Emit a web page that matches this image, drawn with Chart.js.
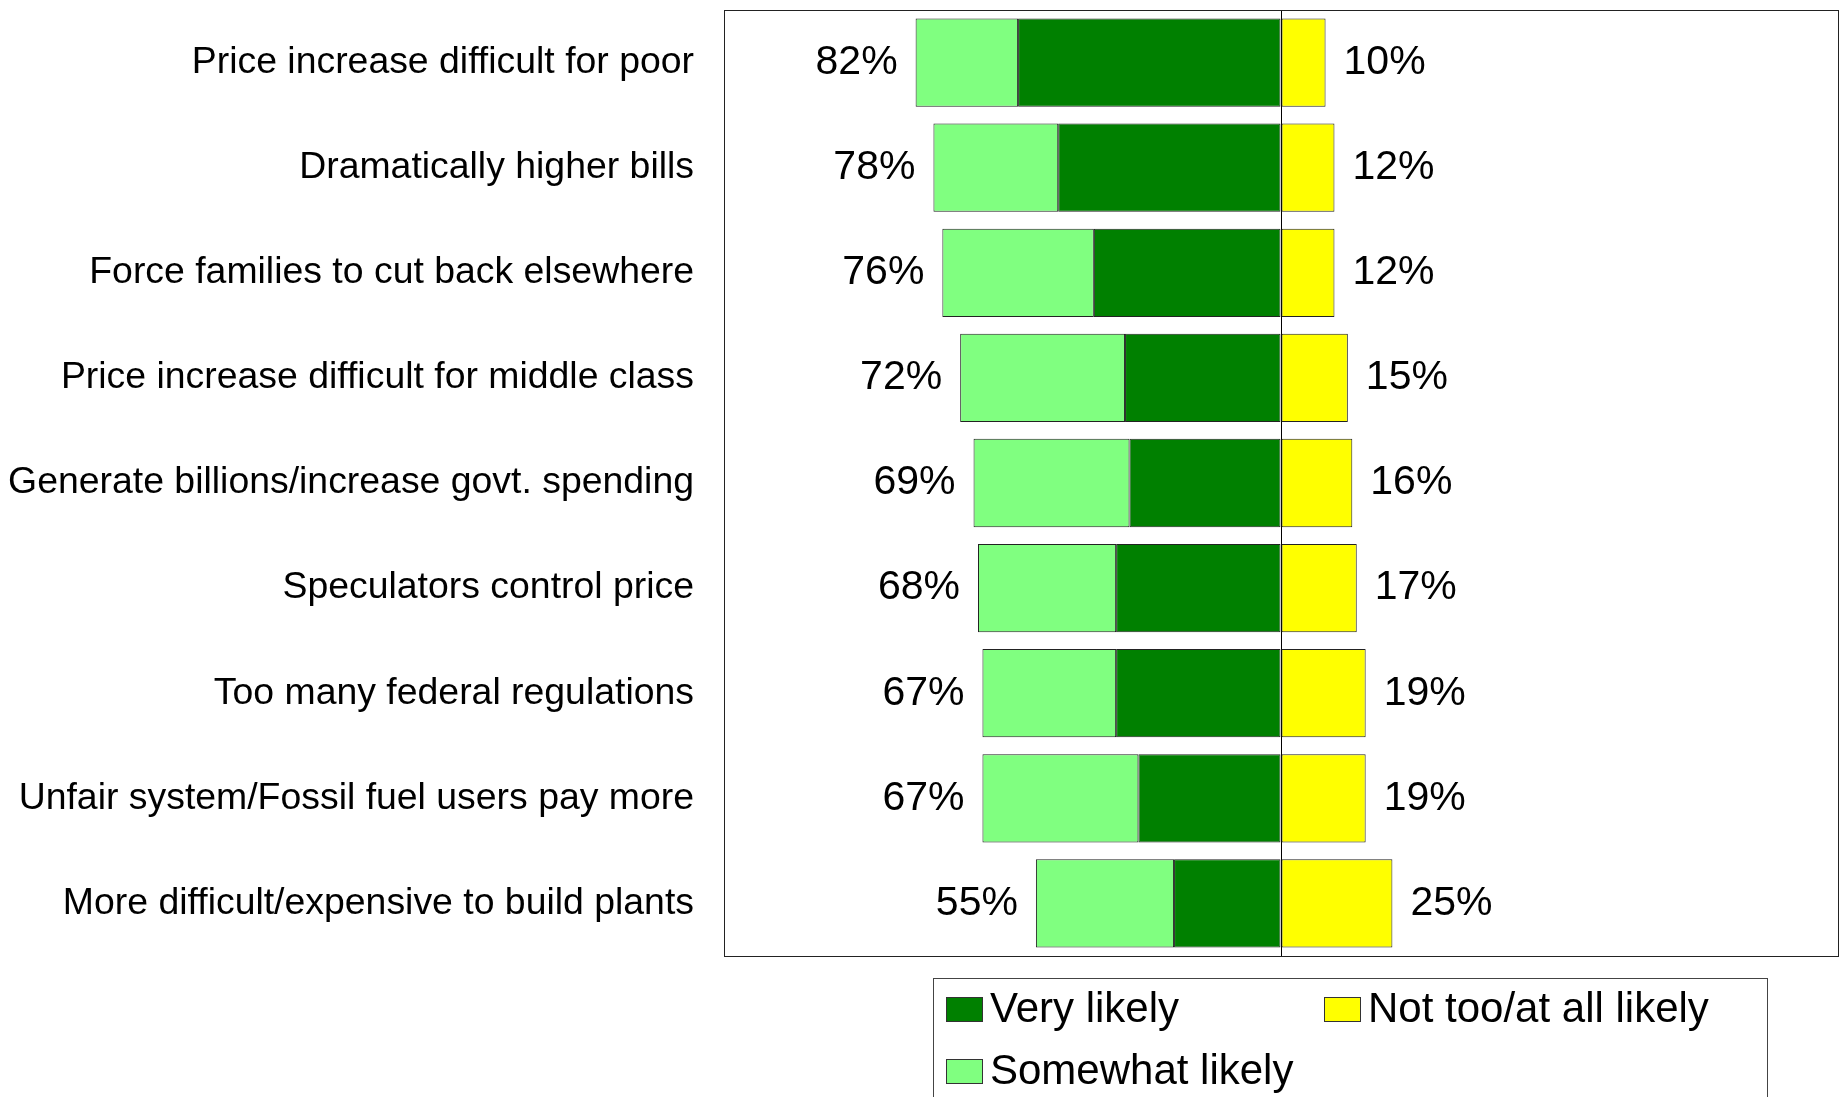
<!DOCTYPE html>
<html>
<head>
<meta charset="utf-8">
<script src="https://cdn.jsdelivr.net/npm/chart.js@4/dist/chart.umd.min.js"></script>
<style>
  body { margin: 0; background: #fff; }
  #wrap { width: 1845px; height: 1097px; }
</style>
</head>
<body>
<div id="wrap"><canvas id="likelyChart" width="1845" height="1097"></canvas></div>
<script>
// categories (top to bottom)
var categories = [
  'Price increase difficult for poor',
  'Dramatically higher bills',
  'Force families to cut back elsewhere',
  'Price increase difficult for middle class',
  'Generate billions/increase govt. spending',
  'Speculators control price',
  'Too many federal regulations',
  'Unfair system/Fossil fuel users pay more',
  'More difficult/expensive to build plants'
];

// percentages
var veryLikely     = [59, 50, 42, 35, 34, 37, 37, 32, 24];
var somewhatLikely = [23, 28, 34, 37, 35, 31, 30, 35, 31];
var notLikely      = [10, 12, 12, 15, 16, 17, 19, 19, 25];

var seriesNames = ['Very likely', 'Not too/at all likely', 'Somewhat likely'];
var seriesColors = ['#008000', '#FFFF00', '#80FF80'];

var FONT = '"Liberation Sans", Arial, sans-serif';

// frame around the plot area
var framePlugin = {
  id: 'frame',
  afterDraw: function(chart) {
    var a = chart.chartArea, ctx = chart.ctx;
    ctx.save();
    ctx.strokeStyle = '#222';
    ctx.lineWidth = 1;
    ctx.strokeRect(Math.round(a.left) + 0.5, Math.round(a.top) + 0.5,
      Math.round(a.right - a.left), Math.round(a.bottom - a.top));
    ctx.restore();
  }
};

// total percentage labels at the bar ends
var totalsPlugin = {
  id: 'totals',
  afterDatasetsDraw: function(chart) {
    var ctx = chart.ctx;
    var outer = chart.getDatasetMeta(2).data;
    var right = chart.getDatasetMeta(1).data;
    ctx.save();
    ctx.font = '41px ' + FONT;
    ctx.fillStyle = '#000';
    ctx.textBaseline = 'middle';
    for (var i = 0; i < categories.length; i++) {
      ctx.textAlign = 'right';
      ctx.fillText((veryLikely[i] + somewhatLikely[i]) + '%', outer[i].x - 18, outer[i].y);
      ctx.textAlign = 'left';
      ctx.fillText(notLikely[i] + '%', right[i].x + 18, right[i].y);
    }
    ctx.restore();
  }
};

// boxed legend below the plot, two columns
var legendPlugin = {
  id: 'boxLegend',
  afterDraw: function(chart) {
    var ctx = chart.ctx, a = chart.chartArea;
    var left = 933, top = a.bottom + 22, width = 834;
    ctx.save();
    ctx.strokeStyle = '#444';
    ctx.lineWidth = 1;
    ctx.strokeRect(left + 0.5, top + 0.5, width, 200);
    var slots = [[left + 13, top + 19], [left + 391, top + 19], [left + 13, top + 81]];
    ctx.font = '42px ' + FONT;
    ctx.textBaseline = 'middle';
    ctx.textAlign = 'left';
    chart.data.datasets.forEach(function(ds, i) {
      var s = slots[i];
      ctx.fillStyle = ds.backgroundColor;
      ctx.fillRect(s[0], s[1], 36, 24);
      ctx.strokeStyle = '#333';
      ctx.strokeRect(s[0] + 0.5, s[1] + 0.5, 36, 24);
      ctx.fillStyle = '#000';
      ctx.fillText(ds.label, s[0] + 44, s[1] + 13);
    });
    ctx.restore();
  }
};

var ctx = document.getElementById('likelyChart').getContext('2d');
var likelyChart = new Chart(ctx, {
  type: 'bar',
  data: {
    labels: categories,
    datasets: [{
      label: seriesNames[0],
      data: veryLikely.map(function(v) { return -v; }),
      backgroundColor: seriesColors[0]
    }, {
      label: seriesNames[1],
      data: notLikely,
      backgroundColor: seriesColors[1]
    }, {
      label: seriesNames[2],
      data: somewhatLikely.map(function(v) { return -v; }),
      backgroundColor: seriesColors[2]
    }]
  },
  options: {
    indexAxis: 'y',
    responsive: false,
    animation: false,
    devicePixelRatio: 1,
    layout: { padding: { top: 10, right: 7, bottom: 141, left: 0 } },
    datasets: {
      bar: {
        barPercentage: 0.84,
        categoryPercentage: 1,
        borderColor: '#222',
        borderWidth: 1,
        borderSkipped: false
      }
    },
    scales: {
      x: {
        stacked: true,
        min: -125,
        max: 125,
        ticks: { display: false, stepSize: 25 },
        border: { display: false },
        grid: {
          drawTicks: false,
          color: function(c) { return c.tick && c.tick.value === 0 ? '#000' : 'rgba(0,0,0,0)'; },
          lineWidth: 1
        },
        afterFit: function(scale) { scale.height = 0; }
      },
      y: {
        stacked: true,
        border: { display: false },
        grid: { display: false, drawTicks: false },
        ticks: {
          color: '#000',
          padding: 30,
          font: { family: FONT, size: 37.4 }
        },
        afterFit: function(scale) {
          scale.width = 724;
          scale.paddingTop = 0;
          scale.paddingBottom = 0;
        }
      }
    },
    plugins: {
      legend: { display: false },
      tooltip: { enabled: false }
    }
  },
  plugins: [framePlugin, totalsPlugin, legendPlugin]
});
</script>
</body>
</html>
